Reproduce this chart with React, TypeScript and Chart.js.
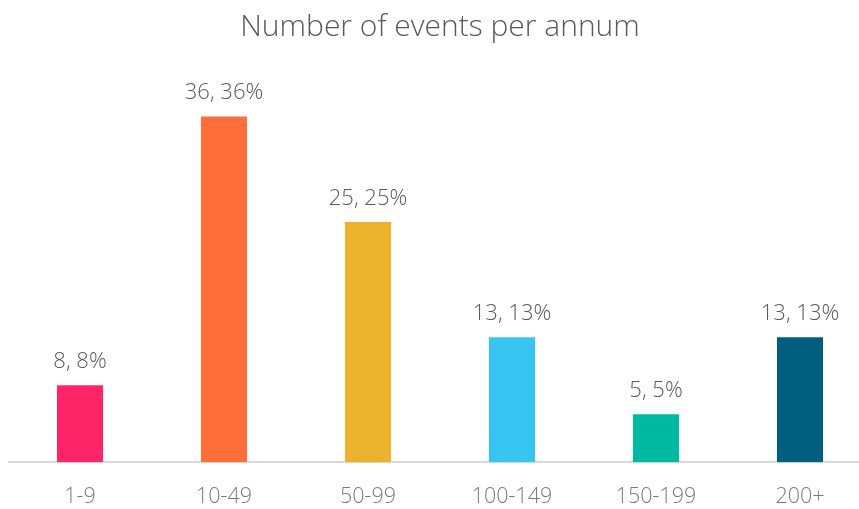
import React, { useEffect, useRef } from "react";
import { Chart, registerables, Plugin } from "chart.js";

Chart.register(...registerables);

// Event-count bands and number of organisations in each band
const categories = ["1-9", "10-49", "50-99", "100-149", "150-199", "200+"];
const counts = [8, 36, 25, 13, 5, 13];
const barColors = ["#FF2468", "#FF6D39", "#ECB22E", "#36C5F0", "#00B9A1", "#005E7E"];

const FONT = "'Segoe UI', 'Open Sans', 'Noto Sans', sans-serif";

// Writes "count, share%" above every bar
const valueLabels: Plugin<"bar"> = {
  id: "valueLabels",
  afterDatasetsDraw(chart) {
    const { ctx } = chart;
    const meta = chart.getDatasetMeta(0);
    const data = chart.data.datasets[0].data as number[];
    const total = data.reduce((a, b) => a + b, 0);
    ctx.save();
    ctx.font = `300 22px ${FONT}`;
    ctx.fillStyle = "#595959";
    ctx.textAlign = "center";
    ctx.textBaseline = "alphabetic";
    meta.data.forEach((bar, i) => {
      const v = data[i];
      const pct = Math.round((v / total) * 100);
      ctx.fillText(`${v}, ${pct}%`, bar.x, bar.y - 17);
    });
    ctx.restore();
  },
};

export default function App() {
  const canvasRef = useRef<HTMLCanvasElement | null>(null);

  useEffect(() => {
    if (!canvasRef.current) return;
    const chart = new Chart(canvasRef.current, {
      type: "bar",
      data: {
        labels: categories,
        datasets: [
          {
            data: counts,
            backgroundColor: barColors,
            borderWidth: 0,
            barPercentage: 0.32,
            categoryPercentage: 1,
          },
        ],
      },
      options: {
        animation: false,
        responsive: true,
        maintainAspectRatio: false,
        layout: { padding: { top: 0, bottom: 1, left: 0, right: 0 } },
        plugins: {
          legend: { display: false },
          tooltip: { enabled: false },
          title: {
            display: true,
            text: "Number of events per annum",
            color: "#595959",
            font: { family: FONT, size: 30, weight: "300", lineHeight: 1.2 },
            padding: { top: 9, bottom: 33 },
          },
        },
        scales: {
          x: {
            grid: { display: false, drawTicks: false },
            border: { display: true, color: "#D9D9D9", width: 2 },
            ticks: {
              color: "#7A7A7A",
              padding: 22,
              font: { family: FONT, size: 21.5, weight: "300", lineHeight: 1.2 },
            },
          },
          y: {
            display: false,
            min: 0,
            max: 40,
          },
        },
      },
      plugins: [valueLabels],
    });
    return () => chart.destroy();
  }, []);

  return (
    <div style={{ position: "fixed", inset: 0, overflow: "hidden", background: "#fff" }}>
      <div style={{ position: "absolute", left: 8, top: 0, width: 864, height: 533 }}>
        <canvas ref={canvasRef} />
      </div>
    </div>
  );
}
